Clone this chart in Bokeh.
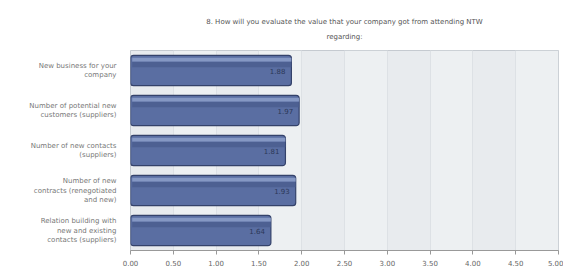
from bokeh.plotting import figure
from bokeh.models import FactorRange, FixedTicker, NumeralTickFormatter, ColumnDataSource, Title
from bokeh.core.properties import value
from bokeh.transform import dodge
from bokeh.embed import file_html
from bokeh.resources import INLINE

categories = [
    "New business for your\ncompany",
    "Number of potential new\ncustomers (suppliers)",
    "Number of new contacts\n(suppliers)",
    "Number of new\ncontracts (renegotiated\nand new)",
    "Relation building with\nnew and existing\ncontacts (suppliers)",
]
values = [1.88, 1.97, 1.81, 1.93, 1.64]
value_labels = ["1.88", "1.97", "1.81", "1.93", "1.64"]
x_ticks = [0, 0.5, 1, 1.5, 2, 2.5, 3, 3.5, 4, 4.5, 5]
title_line1 = "8. How will you evaluate the value that your company got from attending NTW"
title_line2 = "regarding:"

src = ColumnDataSource(dict(cat=categories, val=values, lab=value_labels,
                            lx=[v - 0.07 for v in values]))

p = figure(width=563, height=270, output_backend="svg", toolbar_location=None,
           y_range=FactorRange(factors=list(reversed(categories)), range_padding=0.0),
           x_range=(0, 5), min_border_left=130, min_border_right=5,
           min_border_top=50, min_border_bottom=20)

def style_title(t):
    t.align = "center"
    t.text_font = "DejaVu Sans"
    t.text_font_size = "7px"
    t.text_font_style = "normal"
    t.text_color = "#555555"
    t.standoff = 0

p.title.text = title_line1
style_title(p.title)
t2 = Title(text=title_line2)
style_title(t2)
t2.vertical_align = "top"
t2.standoff = 15
p.add_layout(t2, "above")

p.background_fill_color = "#e8ebee"
p.border_fill_color = "white"
p.outline_line_color = "#c5cad0"

p.xgrid.ticker = FixedTicker(ticks=x_ticks)
p.xgrid.grid_line_color = "#dde1e5"
p.xgrid.band_fill_color = "#f0f2f4"
p.xgrid.band_fill_alpha = 0.7
p.ygrid.grid_line_color = None

p.xaxis.ticker = FixedTicker(ticks=x_ticks)
p.xaxis.formatter = NumeralTickFormatter(format="0.00")
p.xaxis.major_label_text_font = "DejaVu Sans"
p.xaxis.major_label_text_font_size = "7px"
p.xaxis.major_label_text_color = "#666666"
p.xaxis.axis_line_color = "#999999"
p.xaxis.major_tick_line_color = "#999999"
p.xaxis.major_tick_out = 4
p.xaxis.major_tick_in = 0
p.xaxis.minor_tick_line_color = None

p.yaxis.major_label_text_font = "DejaVu Sans"
p.yaxis.major_label_text_font_size = "7px"
p.yaxis.major_label_text_color = "#777777"
p.yaxis.major_label_text_align = "right"
p.yaxis.axis_line_color = None
p.yaxis.major_tick_line_color = None
p.yaxis.major_label_standoff = 8

# bar body
p.hbar(y="cat", right="val", left=0, height=0.76, source=src,
       fill_color="#5a6ea2", line_color="#34426a", line_width=1.2,
       border_radius=3)
# gloss stripes
p.hbar(y=dodge("cat", 0.27, range=p.y_range), right="val", left=0.02, height=0.1, source=src,
       fill_color="#8a9cc8", line_color=None, fill_alpha=0.9)
p.hbar(y=dodge("cat", 0.15, range=p.y_range), right="val", left=0.02, height=0.14, source=src,
       fill_color="#4a5d8e", line_color=None, fill_alpha=0.8)

p.text(x="lx", y="cat", text="lab", source=src, text_align="right",
       text_baseline="middle", text_font=value("DejaVu Sans"),
       text_font_size="7px", text_color="#2c3858")

open("out.html", "w").write(file_html(p, INLINE))
